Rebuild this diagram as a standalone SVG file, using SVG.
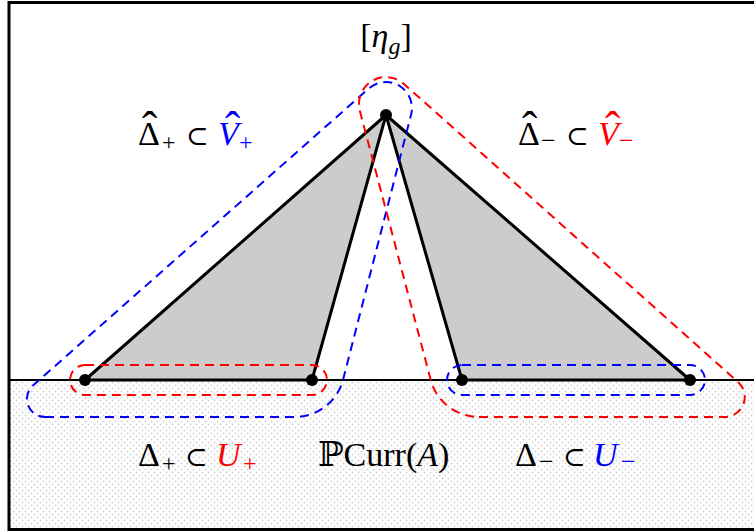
<svg xmlns="http://www.w3.org/2000/svg" width="754" height="531" viewBox="0 0 754 531">
<defs>
<pattern id="dots" width="6" height="6" patternUnits="userSpaceOnUse">
<circle cx="1.5" cy="1.5" r="1" fill="#d4d4d4"/>
<circle cx="4.5" cy="4.5" r="1" fill="#d4d4d4"/>
</pattern>
<style>
.edge{stroke:#000;stroke-width:3;fill:none;stroke-linejoin:round}
.tri{fill:#cccccc;stroke:none}
.pt{fill:#000}
.red{stroke:#ff0000;stroke-width:2;fill:none;stroke-dasharray:9 6}
.blue{stroke:#0000ff;stroke-width:2;fill:none;stroke-dasharray:9 6}
text{font-family:"Liberation Serif","DejaVu Serif",serif;font-size:34px;fill:#000}
.sub{font-size:24px}
.sub2{font-size:26px}
.sup{font-size:27px}
.hat{font-size:46px}
.r{fill:#ff0000}
.b{fill:#0000ff}
.it{font-style:italic}
</style>
</defs>
<g id="background">
<rect x="9" y="380" width="745" height="149" fill="url(#dots)"/>
<path d="M754,2.5 H9 V529.5 H754" stroke="#000" stroke-width="3" fill="none"/>
<line x1="9" y1="380" x2="754" y2="380" stroke="#000" stroke-width="2"/>
</g>
<g id="triangle-plus">
<polygon class="tri" points="386,115 85,380 312,380"/>
<polyline class="edge" points="312,380 386,115 85,380 312,380"/>
</g>
<g id="triangle-minus">
<polygon class="tri" points="386,115 462,380 690,380"/>
<polyline class="edge" points="462,380 386,115 690,380 462,380"/>
</g>
<g id="connectors">
<path id="V-plus" class="blue" d="M45,417 L295,417 A50,50 0 0 0 343,380 L411,115 A26,26 0 0 0 368.8,88.5 L33,385.5 A18,18 0 0 0 45,417 Z"/>
<path id="V-minus" class="red" d="M479,417 L725,417 A20,20 0 0 0 738,382 L404,84 A27,27 0 0 0 360,111.5 L431,381 A50,50 0 0 0 479,417 Z"/>
<rect id="U-plus" class="red" x="70" y="365" width="257" height="30" rx="15"/>
<rect id="U-minus" class="blue" x="447" y="365" width="258" height="30" rx="15"/>
</g>
<g id="points">
<circle class="pt" cx="386" cy="115" r="6"/>
<circle class="pt" cx="85" cy="380" r="6"/>
<circle class="pt" cx="312" cy="380" r="6"/>
<circle class="pt" cx="462" cy="380" r="6"/>
<circle class="pt" cx="690" cy="380" r="6"/>
</g>
<g id="label-eta">
<text x="386" y="47" text-anchor="middle">[<tspan class="it">η</tspan><tspan class="it sub" dy="7">g</tspan><tspan dy="-7">]</tspan></text>
</g>
<g id="label-Vplus">
<text><tspan x="138" y="145">Δ</tspan><tspan class="hat" x="142" y="144">ˆ</tspan><tspan class="sub" x="162" y="150">+</tspan><tspan class="sup" x="186" y="145">⊂</tspan><tspan class="b it" x="218" y="145">V</tspan><tspan class="hat b" x="225" y="144">ˆ</tspan><tspan class="b sub" x="239" y="150">+</tspan></text>
</g>
<g id="label-Vminus">
<text><tspan x="518" y="145">Δ</tspan><tspan class="hat" x="522" y="144">ˆ</tspan><tspan class="sub2" x="541" y="149">−</tspan><tspan class="sup" x="566" y="145">⊂</tspan><tspan class="r it" x="598" y="145">V</tspan><tspan class="hat r" x="605" y="144">ˆ</tspan><tspan class="r sub2" x="619" y="149">−</tspan></text>
</g>
<g id="label-Uplus">
<text><tspan x="138" y="466">Δ</tspan><tspan class="sub" x="162" y="471">+</tspan><tspan class="sup" x="185" y="466">⊂</tspan><tspan class="r it" x="216" y="466">U</tspan><tspan class="r sub" x="243" y="471">+</tspan></text>
</g>
<g id="label-PCurr">
<text x="318" y="466">ℙCurr(<tspan class="it">A</tspan>)</text>
</g>
<g id="label-Uminus">
<text><tspan x="515" y="466">Δ</tspan><tspan class="sub2" x="539" y="470">−</tspan><tspan class="sup" x="563" y="466">⊂</tspan><tspan class="b it" x="593" y="466">U</tspan><tspan class="b sub2" x="621" y="470">−</tspan></text>
</g>
</svg>
